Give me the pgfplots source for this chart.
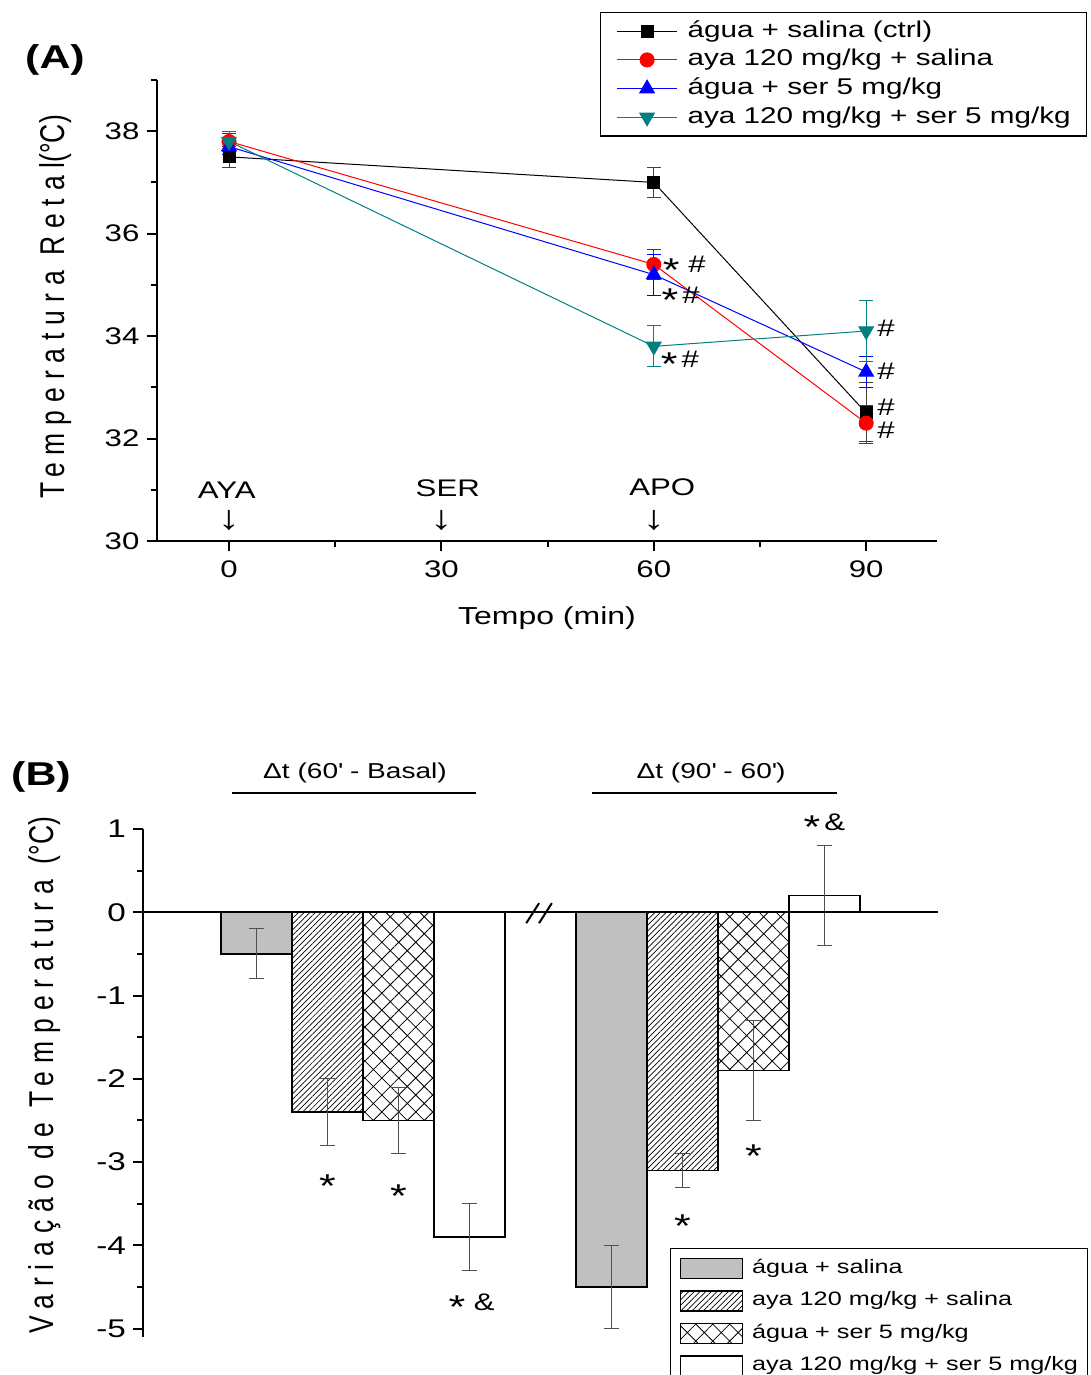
\documentclass[border=0pt]{standalone}
\usepackage{fontspec}
\setmainfont{Liberation Sans}
\newfontfamily\sfA[FakeStretch=1.3]{Liberation Sans}
\newfontfamily\rotf[FakeStretch=0.77]{Liberation Sans}
\newfontfamily\rotfs[FakeStretch=0.77,LetterSpace=23]{Liberation Sans}
\usepackage{pgfplots}
\pgfplotsset{compat=1.18}
\usetikzlibrary{patterns.meta}
\definecolor{tealc}{RGB}{0,128,128}
\definecolor{bargray}{RGB}{192,192,192}
\definecolor{errgray}{RGB}{80,80,80}
\newcommand{\fs}[1]{\fontsize{#1}{#1}\selectfont}
\newcommand{\as}{\raisebox{-4.2pt}[0pt][0pt]{\fs{16.5}*}}
\newcommand{\dn}{{\fs{17}↓}}
\tikzset{ann/.style={font=\sfA\fs{12}, inner sep=0pt}}
\pgfplotsset{
  errA/.style={error bars/y dir=both, error bars/y explicit,
     error bars/error bar style={line width=0.5pt,#1},
     error bars/error mark options={rotate=90, mark size=3.5pt, line width=0.5pt, #1}},
  mybar/.style={ybar, bar width=1, bar shift=0pt, draw=black, line width=0.75pt,
     legend image code/.code={\draw[##1] (0pt,-5pt) rectangle (31pt,5pt);},
     error bars/y dir=both, error bars/y explicit,
     error bars/error bar style={line width=0.5pt, errgray},
     error bars/error mark options={rotate=90, mark size=3.75pt, line width=0.5pt, errgray}},
}
\begin{document}
\begin{tikzpicture}
% ---------------- Panel A ----------------
\begin{axis}[
  at={(78.25pt,-270.5pt)}, anchor=south west,
  scale only axis, width=390.25pt, height=230.5pt,
  xmin=-10.24, xmax=100, ymin=30, ymax=39,
  axis x line*=bottom, axis y line*=left,
  axis line style={line width=1pt},
  xtick={0,30,60,90}, minor xtick={15,45,75},
  ytick={30,32,34,36,38}, minor ytick={31,33,35,37,39},
  tick align=outside, major tick length=5pt, minor tick length=3pt,
  tick style={line width=1pt, black},
  tick label style={font=\sfA\fs{12}},
  xticklabel style={yshift=-1.5pt},
  /pgf/number format/assume math mode=true,
  clip=false,
  legend cell align=left,
  legend image code/.code={\draw[mark repeat=2,mark phase=2,#1] plot coordinates {(0pt,0pt) (15pt,0pt) (30pt,0pt)};},
  legend style={at={(0.5682,1.1475)}, anchor=north west, draw=black, line width=0.6pt,
    inner xsep=8pt, inner ysep=4pt, row sep=3.75pt, column sep=5pt,
    font=\sfA\fs{11.4}, nodes={inner sep=0pt, text height=8.3pt, text depth=2.3pt},
    cells={anchor=west}},
]
\addplot[black, line width=0.5pt, mark=square*, mark size=3pt, errA=black!75]
  coordinates {(0,37.5) +- (0,0.2) (60,37.0) +- (0,0.3) (90,32.5) +- (0,0.6)};
\addlegendentry{água + salina (ctrl)}
\addplot[red, line width=0.5pt, mark=*, mark size=3.5pt, errA=black!75]
  coordinates {(0,37.8) +- (0,0.15) (60,35.4) +- (0,0.3) (90,32.3) +- (0,0.35)};
\addlegendentry{aya 120 mg/kg + salina}
\addplot[blue, line width=0.5pt, mark=triangle*, mark size=4.2pt, errA=blue]
  coordinates {(0,37.7) +- (0,0.15) (60,35.2) +- (0,0.4) (90,33.3) +- (0,0.3)};
\addlegendentry{água + ser 5 mg/kg}
\addplot[tealc, line width=0.5pt, mark=triangle*, mark size=4.2pt, mark options={rotate=180}, errA=tealc]
  coordinates {(0,37.8) +- (0,0.2) (60,33.8) +- (0,0.4) (90,34.1) +- (0,0.6)};
\addlegendentry{aya 120 mg/kg + ser 5 mg/kg}
% annotations
\node[ann] at (axis cs:64.3,35.40) {\as\ \#};
\node[ann] at (axis cs:63.8,34.80) {\as\,\#};
\node[ann] at (axis cs:63.7,33.55) {\as\,\#};
\node[ann] at (axis cs:92.8,34.16) {\#};
\node[ann] at (axis cs:92.8,33.32) {\#};
\node[ann] at (axis cs:92.8,32.61) {\#};
\node[ann] at (axis cs:92.8,32.17) {\#};
\node[ann] at (axis cs:-0.3,31.0) {AYA};
\node[ann] at (axis cs:0,30.41) {\dn};
\node[ann] at (axis cs:30.9,31.03) {SER};
\node[ann] at (axis cs:30,30.41) {\dn};
\node[ann] at (axis cs:61.2,31.05) {APO};
\node[ann] at (axis cs:60,30.41) {\dn};
\end{axis}
% ---------------- Panel B ----------------
\begin{axis}[
  at={(71.5pt,-668.5pt)}, anchor=south west,
  scale only axis, width=397.5pt, height=254pt,
  xmin=-1.6, xmax=9.6, ymin=-5.1, ymax=1,
  axis lines*=left,
  x axis line style={draw=none}, xtick=\empty,
  axis line style={line width=1pt},
  ytick={-5,-4,-3,-2,-1,0,1}, yticklabels={-5,-4,-3,-2,-1,0,1},
  minor ytick={-4.5,-3.5,-2.5,-1.5,-0.5,0.5},
  tick align=outside, major tick length=5pt, minor tick length=3pt,
  tick style={line width=1pt, black},
  tick label style={font=\sfA\fs{12.8}},
  clip=false,
  legend cell align=left,
  legend style={at={(0.663,0.175)}, anchor=north west, draw=black, line width=0.5pt,
    inner xsep=4.5pt, inner ysep=4.5pt, row sep=5.5pt, column sep=4.5pt,
    font=\sfA\fs{9.7}, nodes={inner sep=0pt, text height=7pt, text depth=2pt},
    cells={anchor=west}},
]
\addplot[mybar, fill=bargray] coordinates {(0,-0.5) +- (0,0.3) (5,-4.5) +- (0,0.5)};
\addlegendentry{água + salina}
\addplot[mybar, pattern={Lines[angle=45,distance=2pt,line width=0.35pt]}] coordinates {(1,-2.4) +- (0,0.4) (6,-3.1) +- (0,0.2)};
\addlegendentry{aya 120 mg/kg + salina}
\addplot[mybar, pattern={Hatch[angle=45,distance=6pt,line width=0.4pt]}] coordinates {(2,-2.5) +- (0,0.4) (7,-1.9) +- (0,0.6)};
\addlegendentry{água + ser 5 mg/kg}
\addplot[mybar, fill=white] coordinates {(3,-3.9) +- (0,0.4) (8,0.2) +- (0,0.6)};
\addlegendentry{aya 120 mg/kg + ser 5 mg/kg}
\draw[line width=1pt] (axis cs:-1.6,0) -- (axis cs:9.6,0);
\draw[line width=1pt] (axis cs:3.80,-0.13) -- (axis cs:3.98,0.11);
\draw[line width=1pt] (axis cs:3.98,-0.13) -- (axis cs:4.16,0.11);
\node[ann] at (axis cs:1,-3.32) {\as};
\node[ann] at (axis cs:2,-3.44) {\as};
\node[ann] at (axis cs:3.03,-4.68) {\as\ \&};
\node[ann] at (axis cs:6,-3.80) {\as};
\node[ann] at (axis cs:7,-2.96) {\as};
\node[ann] at (axis cs:8,1.08) {\as\,\&};
\end{axis}
% ---------------- free text ----------------
\begin{scope}[x=0.5pt,y=-0.5pt]
\node[font=\sfA\bfseries\fs{16.5}] at (55,60) {(A)};
\node[font=\sfA\bfseries\fs{16.5}] at (41,777) {(B)};
\node[font=\sfA\fs{12.3}] at (547,618) {Tempo (min)};
\node[rotate=90, inner sep=0pt] at (56,307) {{\rotfs\fs{17.2}Temperatura Retal}{\rotf\fs{17.2}(°C)}};
\node[rotate=90, inner sep=0pt] at (45,1075) {{\rotfs\fs{17.2}Variação de Temperatura }{\rotf\fs{17.2}(°C)}};
\node[font=\sfA\fs{10.8}] at (355,773) {Δt (60\textquotesingle\ - Basal)};
\node[font=\sfA\fs{10.8}] at (711,773) {Δt (90\textquotesingle\ - 60\textquotesingle)};
\draw[line width=0.75pt] (232,793) -- (476,793);
\draw[line width=0.75pt] (592,793) -- (837,793);
\end{scope}
\pgfresetboundingbox
\path[use as bounding box] (0pt,0pt) rectangle (545.5pt,-687.5pt);
\end{tikzpicture}
\end{document}
